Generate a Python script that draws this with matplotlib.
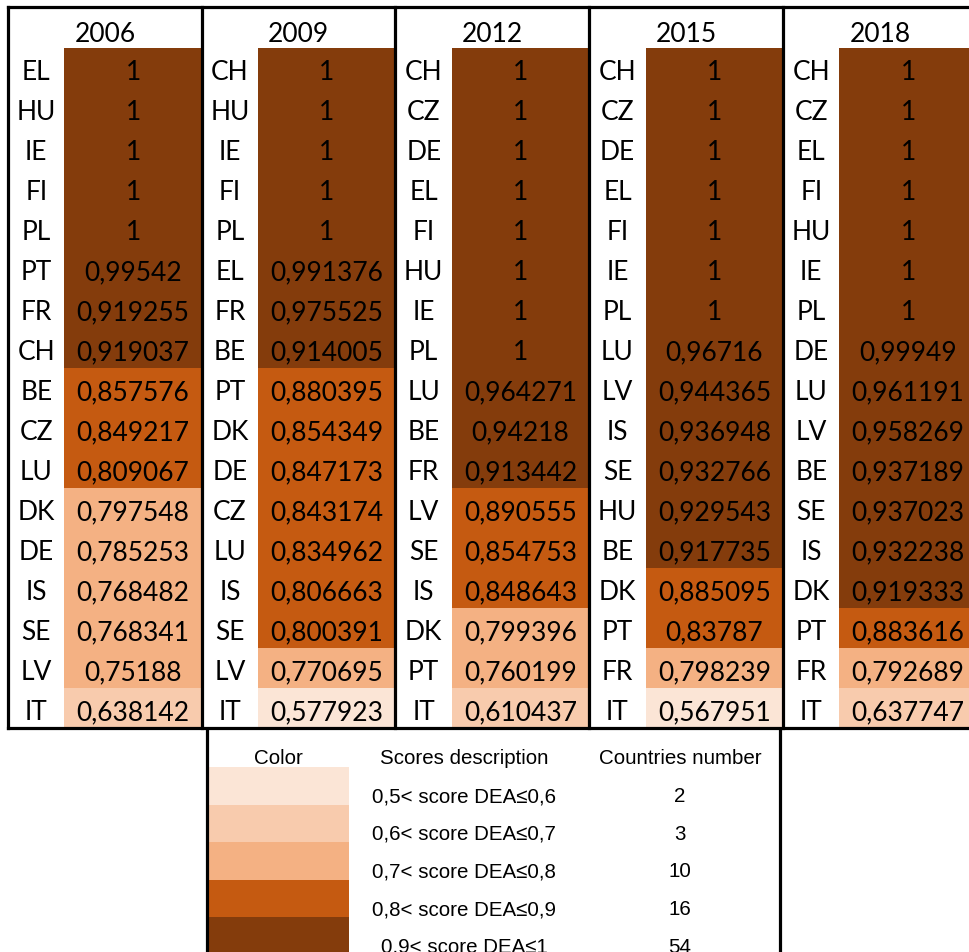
import matplotlib
matplotlib.use("Agg")
import matplotlib.pyplot as plt
from matplotlib.patches import Rectangle

# Данные: рейтинги DEA по годам
years = ["2006", "2009", "2012", "2015", "2018"]

countries_2006 = ["EL", "HU", "IE", "FI", "PL", "PT", "FR", "CH", "BE", "CZ", "LU", "DK", "DE", "IS", "SE", "LV", "IT"]
scores_2006 = [1, 1, 1, 1, 1, 0.99542, 0.919255, 0.919037, 0.857576, 0.849217, 0.809067,
               0.797548, 0.785253, 0.768482, 0.768341, 0.75188, 0.638142]

countries_2009 = ["CH", "HU", "IE", "FI", "PL", "EL", "FR", "BE", "PT", "DK", "DE", "CZ", "LU", "IS", "SE", "LV", "IT"]
scores_2009 = [1, 1, 1, 1, 1, 0.991376, 0.975525, 0.914005, 0.880395, 0.854349, 0.847173,
               0.843174, 0.834962, 0.806663, 0.800391, 0.770695, 0.577923]

countries_2012 = ["CH", "CZ", "DE", "EL", "FI", "HU", "IE", "PL", "LU", "BE", "FR", "LV", "SE", "IS", "DK", "PT", "IT"]
scores_2012 = [1, 1, 1, 1, 1, 1, 1, 1, 0.964271, 0.94218, 0.913442, 0.890555, 0.854753,
               0.848643, 0.799396, 0.760199, 0.610437]

countries_2015 = ["CH", "CZ", "DE", "EL", "FI", "IE", "PL", "LU", "LV", "IS", "SE", "HU", "BE", "DK", "PT", "FR", "IT"]
scores_2015 = [1, 1, 1, 1, 1, 1, 1, 0.96716, 0.944365, 0.936948, 0.932766, 0.929543,
               0.917735, 0.885095, 0.83787, 0.798239, 0.567951]

countries_2018 = ["CH", "CZ", "EL", "FI", "HU", "IE", "PL", "DE", "LU", "LV", "BE", "SE", "IS", "DK", "PT", "FR", "IT"]
scores_2018 = [1, 1, 1, 1, 1, 1, 1, 0.99949, 0.961191, 0.958269, 0.937189, 0.937023,
               0.932238, 0.919333, 0.883616, 0.792689, 0.637747]

all_countries = [countries_2006, countries_2009, countries_2012, countries_2015, countries_2018]
all_scores = [scores_2006, scores_2009, scores_2012, scores_2015, scores_2018]

# Легенда
bin_edges = [0.5, 0.6, 0.7, 0.8, 0.9, 1.0]
bin_colors = ["#FBE5D6", "#F8CBAD", "#F4B183", "#C55A11", "#843C0C"]
bin_labels = ["0,5< score DEA≤0,6", "0,6< score DEA≤0,7", "0,7< score DEA≤0,8",
              "0,8< score DEA≤0,9", "0,9< score DEA≤1"]
bin_counts = ["2", "3", "10", "16", "54"]


def score_color(v):
    for i in range(len(bin_colors)):
        if bin_edges[i] < v <= bin_edges[i + 1]:
            return bin_colors[i]
    return bin_colors[-1]


W, H = 969, 953
fig = plt.figure(figsize=(W / 100, H / 100), dpi=100)
ax = fig.add_axes([0, 0, 1, 1])
ax.set_xlim(0, W)
ax.set_ylim(H, 0)
ax.axis("off")

tfont = "Lato"
tsize = 19
x0, y0 = 8, 8
block_w = 193.75
label_w = 56.5
head_h = 41
row_h = 40
n_rows = len(countries_2006)

# таблица
for b, year in enumerate(years):
    bx = x0 + b * block_w
    ax.text(bx + block_w / 2, y0 + head_h / 2 + 6, year, ha="center", va="center",
            fontsize=tsize, family=tfont)
    for r in range(n_rows):
        ry = y0 + head_h + r * row_h
        v = all_scores[b][r]
        ax.add_patch(Rectangle((bx + label_w, ry), block_w - label_w, row_h,
                               facecolor=score_color(v), edgecolor="none"))
        ax.text(bx + label_w / 2, ry + row_h / 2 + 4, all_countries[b][r], ha="center",
                va="center", fontsize=tsize, family=tfont)
        ax.text(bx + label_w + (block_w - label_w) / 2, ry + row_h / 2 + 4,
                f"{v:g}".replace(".", ","), ha="center", va="center",
                fontsize=tsize, family=tfont)
    # вертикальные линии блоков
    ax.plot([bx, bx], [y0, y0 + head_h + n_rows * row_h], color="black", lw=2.3,
            solid_capstyle="projecting")

y_end = y0 + head_h + n_rows * row_h
ax.plot([x0, W + 5], [y0, y0], color="black", lw=2.3, solid_capstyle="projecting")
ax.plot([x0, W + 5], [y_end, y_end], color="black", lw=2.3, solid_capstyle="projecting")

# легенда
lx0, lx1 = 207, 780
ly0 = y_end + 1
sw_w = 142
lhead = 38
lrow = 37.6
lfont = "Liberation Sans"
lsize = 14.8

ax.plot([lx0, lx0], [ly0, H + 5], color="black", lw=2.3)
ax.plot([lx1, lx1], [ly0, H + 5], color="black", lw=2.3)

ax.text(lx0 + sw_w / 2, ly0 + lhead / 2 + 10, "Color", ha="center", va="center",
        fontsize=lsize, family=lfont)
ax.text(464, ly0 + lhead / 2 + 10, "Scores description", ha="center", va="center",
        fontsize=lsize, family=lfont)
ax.text(680, ly0 + lhead / 2 + 10, "Countries number", ha="center", va="center",
        fontsize=lsize, family=lfont)

for i in range(len(bin_colors)):
    ry = ly0 + lhead + i * lrow
    ax.add_patch(Rectangle((lx0, ry), sw_w, lrow, facecolor=bin_colors[i], edgecolor="none"))
    ax.text(464, ry + lrow / 2 + 10, bin_labels[i], ha="center", va="center",
            fontsize=lsize, family=lfont)
    ax.text(680, ry + lrow / 2 + 10, bin_counts[i], ha="center", va="center",
            fontsize=lsize, family=lfont)

fig.savefig("out.png", dpi=100)
